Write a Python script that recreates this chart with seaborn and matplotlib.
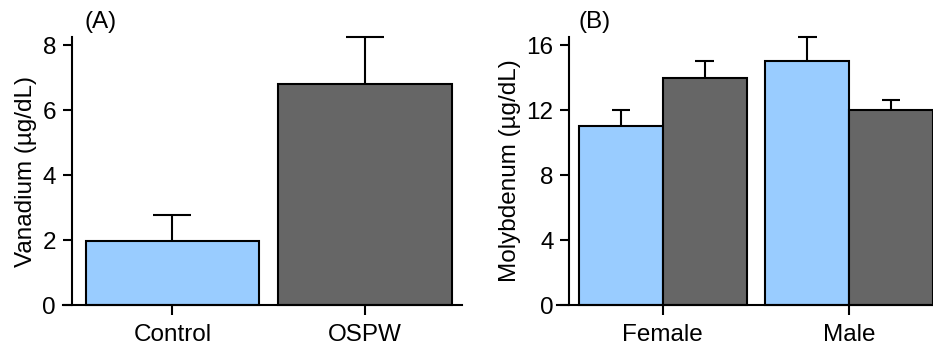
import numpy as np
import pandas as pd
import matplotlib
matplotlib.use("Agg")
import matplotlib.pyplot as plt
import seaborn as sns

# Panel A: vanadium by treatment
treatments = ["Control", "OSPW"]
vanadium_mean = [1.97, 6.80]
vanadium_se = [0.80, 1.45]

# Panel B: molybdenum by sex and treatment
sexes = ["Female", "Female", "Male", "Male"]
groups = ["Control", "OSPW", "Control", "OSPW"]
molybdenum_mean = [11.0, 14.0, 15.0, 12.0]
molybdenum_se = [1.0, 1.0, 1.5, 0.6]

BLUE = "#99CCFF"
GRAY = "#666666"
LW = 1.5
FS = 17.5

sns.set_theme(style="ticks")
plt.rcParams["font.family"] = ["Liberation Sans", "DejaVu Sans"]
plt.rcParams["font.size"] = FS
plt.rcParams["axes.linewidth"] = LW
for key in ["text.color", "axes.labelcolor", "xtick.color", "ytick.color",
            "axes.edgecolor"]:
    plt.rcParams[key] = "black"

fig = plt.figure(figsize=(9.33, 3.49), dpi=100)
ax_a = fig.add_axes([63 / 933, 0.126, 399 / 933, 0.768])
ax_b = fig.add_axes([557 / 933, 0.126, 376 / 933, 0.768])

df_a = pd.DataFrame({"treatment": treatments, "value": vanadium_mean})
sns.barplot(data=df_a, x="treatment", y="value", hue="treatment",
            palette=[BLUE, GRAY], saturation=1, width=0.9, errorbar=None,
            legend=False, edgecolor="black", linewidth=LW, ax=ax_a)

df_b = pd.DataFrame({"sex": sexes, "group": groups, "value": molybdenum_mean})
sns.barplot(data=df_b, x="sex", y="value", hue="group",
            palette=[BLUE, GRAY], saturation=1, width=0.9, gap=0,
            errorbar=None, legend=False, edgecolor="black", linewidth=LW,
            ax=ax_b)


def upper_errorbars(ax, means, ses, order):
    """Draw one-sided (upper) SE bars on top of each bar patch."""
    patches = [p for p in ax.patches if p.get_height() > 0]
    patches = sorted(patches, key=lambda p: p.get_x())
    for p, i in zip(patches, order):
        p.set_clip_on(False)
        cx = p.get_x() + p.get_width() / 2
        top = means[i] + ses[i]
        half = 0.11 * p.get_width()
        ax.plot([cx, cx], [means[i], top], color="black", lw=LW,
                solid_capstyle="butt", zorder=3, clip_on=False)
        ax.plot([cx - half, cx + half], [top, top], color="black", lw=LW,
                solid_capstyle="butt", zorder=3, clip_on=False)


upper_errorbars(ax_a, vanadium_mean, vanadium_se, [0, 1])
upper_errorbars(ax_b, molybdenum_mean, molybdenum_se, [0, 1, 2, 3])

top_a = max(np.add(vanadium_mean, vanadium_se))
top_b = max(np.add(molybdenum_mean, molybdenum_se))

for ax, xlim, top, yticks, ylabel, spine_x in [
    (ax_a, (-0.568, 1.504), top_a, [0, 2, 4, 6, 8], "Vanadium (µg/dL)", -0.522),
    (ax_b, (-0.567, 1.449), top_b, [0, 4, 8, 12, 16], "Molybdenum (µg/dL)", -0.5),
]:
    ax.set_xlim(*xlim)
    ax.set_ylim(0, top)
    ax.set_yticks(yticks)
    ax.set_xlabel("")
    ax.set_ylabel(ylabel, fontsize=FS, labelpad=4, color="black")
    for s in ["top", "right"]:
        ax.spines[s].set_visible(False)
    ax.spines["left"].set_position(("data", spine_x))
    ax.spines["left"].set_linewidth(LW)
    ax.spines["bottom"].set_linewidth(LW)
    ax.tick_params(axis="y", direction="out", length=6.5, width=LW,
                   pad=5, labelsize=FS, colors="black")
    ax.tick_params(axis="x", direction="out", length=7.5, width=LW,
                   pad=6, labelsize=FS, colors="black")
    ax.set_facecolor("white")

fig.text(85 / 933, 1 - 22 / 349, "(A)", ha="left", va="center", fontsize=FS)
fig.text(578 / 933, 1 - 22 / 349, "(B)", ha="left", va="center", fontsize=FS)

fig.savefig("out.png", dpi=100, facecolor="white")
